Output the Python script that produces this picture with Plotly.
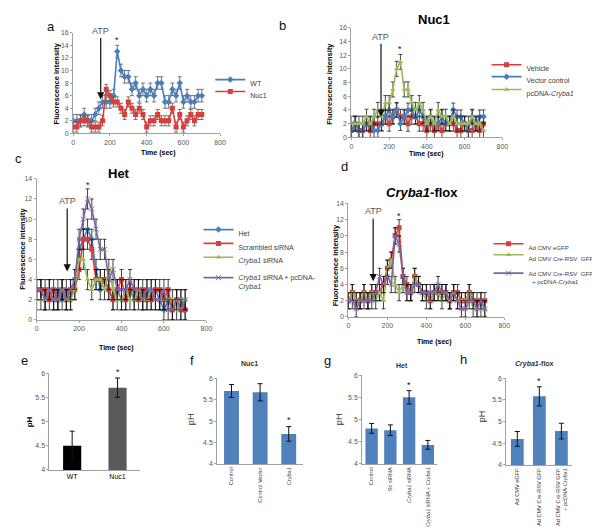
import plotly.graph_objects as go

W, H = 600, 532
def px(x): return x / W
def py(y): return 1 - y / H

t = [i * 20 for i in range(36)]

# panel a
a_wt = [2,2,2,3,2,2,3,4,5,5,5,6,13,10,9,9,7,8,6,7,6,7,6,8,8,5,5,7,6,8,5,6,5,5,6,6]
a_nuc1 = [1,1,2,2,2,1,1,1,2,7,6,5,5,4,3,5,4,3,4,3,1,2,2,3,2,2,2,4,1,3,1,2,3,2,3,3]
# panel b
b_vehicle = [1,2,1,1,2,1,2,2,2,3,2,3,4,3,3,2,3,3,2,2,1,2,1,2,1,2,2,2,1,1,2,1,1,2,1,2]
b_vector = [1,2,1,1,2,2,1,1,2,3,4,3,4,2,3,4,4,3,4,3,2,3,2,2,3,2,2,4,3,3,2,1,3,2,3,3]
b_pcdna = [2,2,2,2,3,2,3,4,3,5,5,7,10,11,7,7,5,4,5,4,2,3,2,4,3,3,2,3,2,2,2,2,3,2,2,1]
# panel c
c_het = [3,3,2,3,2,3,2,3,2,4,7,8,9,8,5,3,4,3,2,3,2,2,3,2,3,2,3,2,3,2,1,2,1,2,2,1]
c_scr = [3,3,3,2,3,2,3,2,3,3,5,8,8,7,4,4,4,3,2,3,4,2,3,3,2,3,2,2,3,3,2,3,1,2,1,1]
c_sirna = [2,2,2,3,2,2,3,2,2,3,6,6,4,3,4,4,3,5,3,2,2,3,2,2,3,2,2,3,2,2,2,2,2,1,2,2]
c_resc = [3,3,2,3,2,2,3,2,3,4,8,10,12,11,9,7,7,4,5,3,3,3,4,3,3,2,3,3,2,2,3,1,1,2,1,2]
# panel d
d_egfp = [2,3,2,2,3,2,3,3,3,4,6,7,10,11,5,4,3,5,4,3,3,2,3,3,3,3,2,3,3,2,2,3,2,2,2,2]
d_cre = [2,3,2,2,3,2,3,2,3,2,6,7,4,3,4,3,3,5,4,3,2,2,3,3,2,3,2,3,2,2,2,3,1,1,1,1]
d_resc = [2,2,1,2,2,2,2,3,5,4,5,4,10,9,5,3,3,4,4,3,3,3,3,4,3,3,2,3,2,1,1,2,2,1,2,1]
err_a = [1.0, 0.8]
err_b = [1.1, 1.0, 1.1]
err_c = [1.0, 1.0, 1.0, 1.0]
err_d = [1.0, 1.0, 1.0]

# bars
e_cats = ["WT", "Nuc1"]
e_vals = [4.5, 5.7]
e_err = [0.3, 0.2]
f_cats = ["Control", "Control Vector", "<i>Cryba1</i>"]
f_vals = [5.7, 5.67, 4.7]
f_err = [0.15, 0.2, 0.17]
g_cats = ["Control", "Sc siRNA", "<i>Cryba1</i> siRNA", "<i>Cryba1</i> siRNA + <i>Cryba1</i>"]
g_vals = [4.8, 4.76, 5.5, 4.43]
g_err = [0.11, 0.12, 0.15, 0.1]
h_cats = ["Ad CMV eGFP", "Ad CMV Cre-RSV GFP", "Ad CMV Cre-RSV GFP<br>+ pcDNA-<i>Cryba1</i>"]
h_vals = [4.6, 5.58, 4.78]
h_err = [0.17, 0.22, 0.18]

BLUE = "#4A7EBB"; RED = "#D93F3A"; GREEN = "#9BBB59"; PURPLE = "#8064A2"
BARBLUE = "#4F81BD"
FONT = "Arial, Liberation Sans, sans-serif"
TICKC = "#595959"

fig = go.Figure()
legs = {}
nleg = [0]

def line(x, y, err, name, color, symbol, xa, ya, ecol, lx, ly, fsize=7, multi=False):
    nleg[0] += 1
    key = "legend" if nleg[0] == 1 else "legend%d" % nleg[0]
    legs[key] = dict(x=px(lx - 45), y=py(ly - 13 if multi else ly - 5), xanchor="left",
                     yanchor="top" if multi else "middle",
                     valign="top", font=dict(family=FONT, size=fsize, color="#404040"),
                     bgcolor="rgba(0,0,0,0)", itemwidth=30, tracegroupgap=0, borderwidth=0)
    fig.add_trace(go.Scatter(
        x=x, y=y, name=name, mode="lines+markers", xaxis=xa, yaxis=ya, legend=key,
        line=dict(color=color, width=1.6),
        marker=dict(color=color, symbol=symbol, size=5,
                    line=dict(color=color, width=1 if symbol == "x-thin" else 0)),
        error_y=dict(type="data", array=[err] * len(y), color=ecol, thickness=0.8, width=2),
    ))

line(t, a_wt, err_a[0], "WT", BLUE, "diamond", "x", "y", "#555555", 248, 77)
line(t, a_nuc1, err_a[1], "Nuc1", RED, "square", "x", "y", "#555555", 248, 89)
line(t, b_vehicle, err_b[0], "Vehicle", RED, "square", "x2", "y2", "#222222", 528, 62)
line(t, b_vector, err_b[1], "Vector control", BLUE, "diamond", "x2", "y2", "#222222", 528, 74)
line(t, b_pcdna, err_b[2], "pcDNA-<i>Cryba1</i>", GREEN, "triangle-up", "x2", "y2", "#222222", 528, 87)
line(t, c_het, err_c[0], "Het", BLUE, "diamond", "x3", "y3", "#111111", 236, 229)
line(t, c_scr, err_c[1], "Scrambled siRNA", RED, "square", "x3", "y3", "#111111", 236, 243)
line(t, c_sirna, err_c[2], "<i>Cryba1</i> siRNA", GREEN, "triangle-up", "x3", "y3", "#111111", 236, 257)
line(t, c_resc, err_c[3], "<i>Cryba1</i> siRNA + pcDNA-<br><i>Cryba1</i>", PURPLE, "x-thin", "x3", "y3", "#111111", 236, 271, multi=True)
line(t, d_egfp, err_d[0], "Ad CMV eGFP", RED, "square", "x4", "y4", "#111111", 530, 244, 6.1)
line(t, d_cre, err_d[1], "Ad CMV Cre-RSV  GFP", GREEN, "triangle-up", "x4", "y4", "#111111", 530, 255, 6.1)
line(t, d_resc, err_d[2], "Ad CMV Cre-RSV  GFP<br>  + pcDNA-<i>Cryba1</i>", PURPLE, "x-thin", "x4", "y4", "#111111", 530, 267, 6.1, multi=True)

def bars(cats, vals, err, colors, xa, ya, width):
    fig.add_trace(go.Bar(
        x=cats, y=vals, xaxis=xa, yaxis=ya, marker=dict(color=colors, line=dict(width=0)),
        width=width, showlegend=False,
        error_y=dict(type="data", array=err, color="#111111", thickness=1, width=2.5),
    ))

bars(e_cats, e_vals, e_err, ["#000000", "#595959"], "x5", "y5", 0.4)
bars(f_cats, f_vals, f_err, BARBLUE, "x6", "y6", 0.52)
bars(g_cats, g_vals, g_err, BARBLUE, "x7", "y7", 0.66)
bars(h_cats, h_vals, h_err, BARBLUE, "x8", "y8", 0.58)

tickfont = dict(family=FONT, size=7, color=TICKC)

def xline(dom, anchor):
    return dict(domain=dom, anchor=anchor, range=[0, 800], dtick=200, showgrid=False, zeroline=False,
                showline=True, linecolor="#a0a0a0", linewidth=1, ticks="outside", ticklen=2,
                tickcolor="#a0a0a0", tickfont=tickfont)

def yline(dom, anchor, top):
    return dict(domain=dom, anchor=anchor, range=[0, top], dtick=2, showgrid=False, zeroline=False,
                showline=True, linecolor="#a0a0a0", linewidth=1, ticks="outside", ticklen=2,
                tickcolor="#a0a0a0", tickfont=tickfont)

def xbar(dom, anchor, n, angle, size, color):
    return dict(domain=dom, anchor=anchor, range=[-0.5, n - 0.5], showgrid=False, zeroline=False,
                showline=True, linecolor="#a0a0a0", linewidth=1, ticks="",
                tickangle=angle, tickfont=dict(family=FONT, size=size, color=color))

def ybar(dom, anchor):
    return dict(domain=dom, anchor=anchor, range=[4, 6], dtick=0.5, showgrid=False, zeroline=False,
                showline=True, linecolor="#a0a0a0", linewidth=1, ticks="outside", ticklen=2,
                tickcolor="#a0a0a0", tickfont=tickfont)

layout = dict(
    width=W, height=H, margin=dict(l=0, r=0, t=0, b=0),
    paper_bgcolor="white", plot_bgcolor="white",
    font=dict(family=FONT, color="#333333"),
    xaxis=xline([px(64), px(213)], "y"), yaxis=yline([py(123), py(21)], "x", 16),
    xaxis2=xline([px(346), px(499)], "y2"), yaxis2=yline([py(127), py(16)], "x2", 16),
    xaxis3=xline([px(27), px(199)], "y3"), yaxis3=yline([py(312), py(169)], "x3", 14),
    xaxis4=xline([px(343), px(501)], "y4"), yaxis4=yline([py(309), py(194)], "x4", 14),
    xaxis5=xbar([px(40), px(132)], "y5", 2, 0, 7, "#000000"), yaxis5=ybar([py(464), py(366)], "x5"),
    xaxis6=xbar([px(210), px(297)], "y6", 3, -90, 5.6, "#404040"), yaxis6=ybar([py(458), py(371)], "x6"),
    xaxis7=xbar([px(357), px(433)], "y7", 4, -90, 5.6, "#404040"), yaxis7=ybar([py(458), py(368)], "x7"),
    xaxis8=xbar([px(503), px(570)], "y8", 3, -90, 5.6, "#404040"), yaxis8=ybar([py(459), py(371)], "x8"),
)
layout.update(legs)
fig.update_layout(**layout)

ann = []
def txt(x, y, s, size=8, bold=False, angle=0, color="#000000", xanchor="center"):
    if bold:
        s = "<b>" + s + "</b>"
    ann.append(dict(x=px(x), y=py(y), xref="paper", yref="paper", text=s, showarrow=False,
                    font=dict(family=FONT, size=size, color=color), textangle=angle,
                    xanchor=xanchor, yanchor="middle"))

# panel letters
for lab, x, y in [("a", 42, 15), ("b", 276, 14), ("c", 9, 148), ("d", 339, 157),
                  ("e", 15, 353), ("f", 184, 353), ("g", 322, 353), ("h", 460, 352)]:
    txt(x, y, lab, size=13, color="#111111")

# titles
txt(430, 8, "Nuc1", size=13, bold=True)
txt(110, 164, "Het", size=13, bold=True)
txt(418, 183, "<i>Cryba1</i>-flox", size=13, bold=True)
txt(243, 356, "Nuc1", size=7, bold=True, color="#333333")
txt(397, 358, "Het", size=7, bold=True, color="#333333")
txt(532, 357, "<i>Cryba1</i>-flox", size=7, bold=True, color="#333333")

# axis titles
for x, y in [(47, 72), (323, 73), (13, 240), (330, 257)]:
    txt(x, y, "Fluorescence intensity", size=7.5, bold=True, angle=-90)
for x, y in [(150, 143), (422, 144), (108, 340), (430, 334)]:
    txt(x, y, "Time (sec)", size=7, bold=True)
txt(20, 415, "pH", size=8, bold=True, angle=-90)
for x, y in [(183, 413), (333, 413), (478, 410)]:
    txt(x, y, "pH", size=9, angle=-90, color="#333333")

# ATP labels (paper) + arrows (data coords)
for x, y in [(92, 19), (376, 25), (58, 192), (368, 202)]:
    txt(x, y, "ATP", size=9, color="#555555")

def arrow(xa, ya, x, ytail, yhead):
    ann.append(dict(x=x, y=yhead, ax=x, ay=ytail, xref=xa, yref=ya, axref=xa, ayref=ya,
                    text="", showarrow=True, arrowhead=2, arrowsize=1.2, arrowwidth=1.2,
                    arrowcolor="#111111"))
arrow("x", "y", 150, 15.4, 5.4)
arrow("x2", "y2", 157, 13.9, 3.0)
arrow("x3", "y3", 144, 11.2, 4.8)
arrow("x4", "y4", 127, 12.3, 4.4)

# significance stars
def star(xa, ya, x, y):
    ann.append(dict(x=x, y=y, xref=xa, yref=ya, text="*", showarrow=False,
                    font=dict(family=FONT, size=9, color="#111111"), yanchor="bottom"))
star("x", "y", 240, 13.8)
star("x2", "y2", 260, 11.9)
star("x3", "y3", 240, 12.7)
star("x4", "y4", 260, 11.6)
star("x5", "y5", "Nuc1", 5.88)
star("x6", "y6", "<i>Cryba1</i>", 4.85)
star("x7", "y7", "<i>Cryba1</i> siRNA", 5.63)
star("x8", "y8", "Ad CMV Cre-RSV GFP", 5.78)

fig.update_layout(annotations=ann)
fig.write_html("out.html")
